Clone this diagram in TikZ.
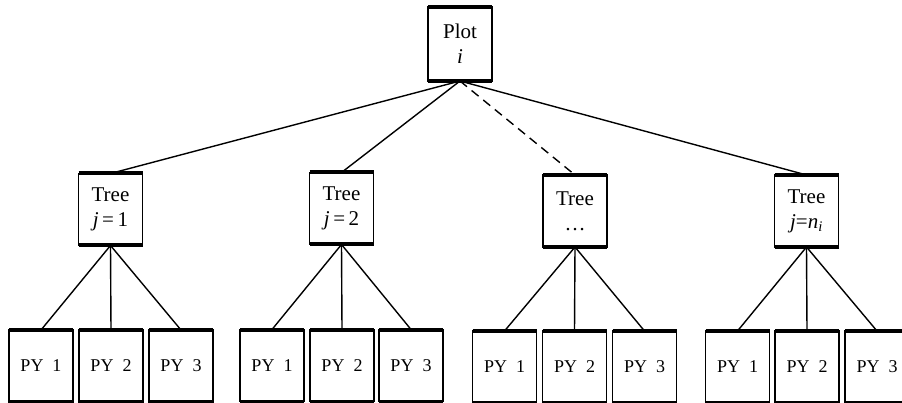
\documentclass[tikz,border=0pt]{standalone}
\usepackage{fontspec}
\setmainfont{Liberation Serif}
\begin{document}
\begin{tikzpicture}[x=1pt,y=-1pt,
  thickedge/.style={line width=4pt},
  box/.style={draw, line width=1.8pt, inner sep=0pt, outer sep=0pt, align=center,
    minimum width=64pt, minimum height=72pt,
    append after command={(\tikzlastnode.north west) edge[thickedge] (\tikzlastnode.north east)
      (\tikzlastnode.south west) edge[thickedge] (\tikzlastnode.south east)}},
  bigbox/.style={box, font=\fontsize{21}{25}\selectfont},
  pybox/.style={box, font=\fontsize{18}{20}\selectfont},
  conn/.style={line width=1.4pt},
  dconn/.style={conn, dashed, dash pattern=on 9pt off 6pt}]
\useasboundingbox (0,0) rectangle (902,403);
\node[bigbox, minimum height=74pt] (plot) at (460,44) {Plot\\\textit{i}};
\node[bigbox] (t1) at (110.5,209.5) {Tree\\\textit{j}\,=\,1};
\node[bigbox] (t2) at (341.5,208.5) {Tree\\\textit{j}\,=\,2};
\node[bigbox] (t3) at (575,211) {Tree\\…};
\node[bigbox] (t4) at (806.5,211) {Tree\\\textit{j}=\textit{n}\textsubscript{\textit{i}}};
% PY boxes
\node[pybox] (p11) at (41,366) {PY\ \ 1};
\node[pybox] (p12) at (111,366) {PY\ \ 2};
\node[pybox] (p13) at (181,366) {PY\ \ 3};
\node[pybox] (p21) at (272,365.5) {PY\ \ 1};
\node[pybox] (p22) at (342,365.5) {PY\ \ 2};
\node[pybox] (p23) at (411,365.5) {PY\ \ 3};
\node[pybox] (p31) at (504.5,367) {PY\ \ 1};
\node[pybox] (p32) at (574.5,367) {PY\ \ 2};
\node[pybox] (p33) at (644.5,367) {PY\ \ 3};
\node[pybox] (p41) at (737.5,367) {PY\ \ 1};
\node[pybox] (p42) at (807,367) {PY\ \ 2};
\node[pybox] (p43) at (877,367) {PY\ \ 3};
% connectors
\draw[conn] (plot.south) -- (t1.north);
\draw[conn] (plot.south) -- (t2.north);
\draw[dconn] (plot.south) -- (t3.north);
\draw[conn] (plot.south) -- (t4.north);
\foreach \t in {1,2,3,4}{
  \foreach \p in {1,2,3}{
    \draw[conn] (t\t.south) -- (p\t\p.north);
  }
}
\end{tikzpicture}
\end{document}
